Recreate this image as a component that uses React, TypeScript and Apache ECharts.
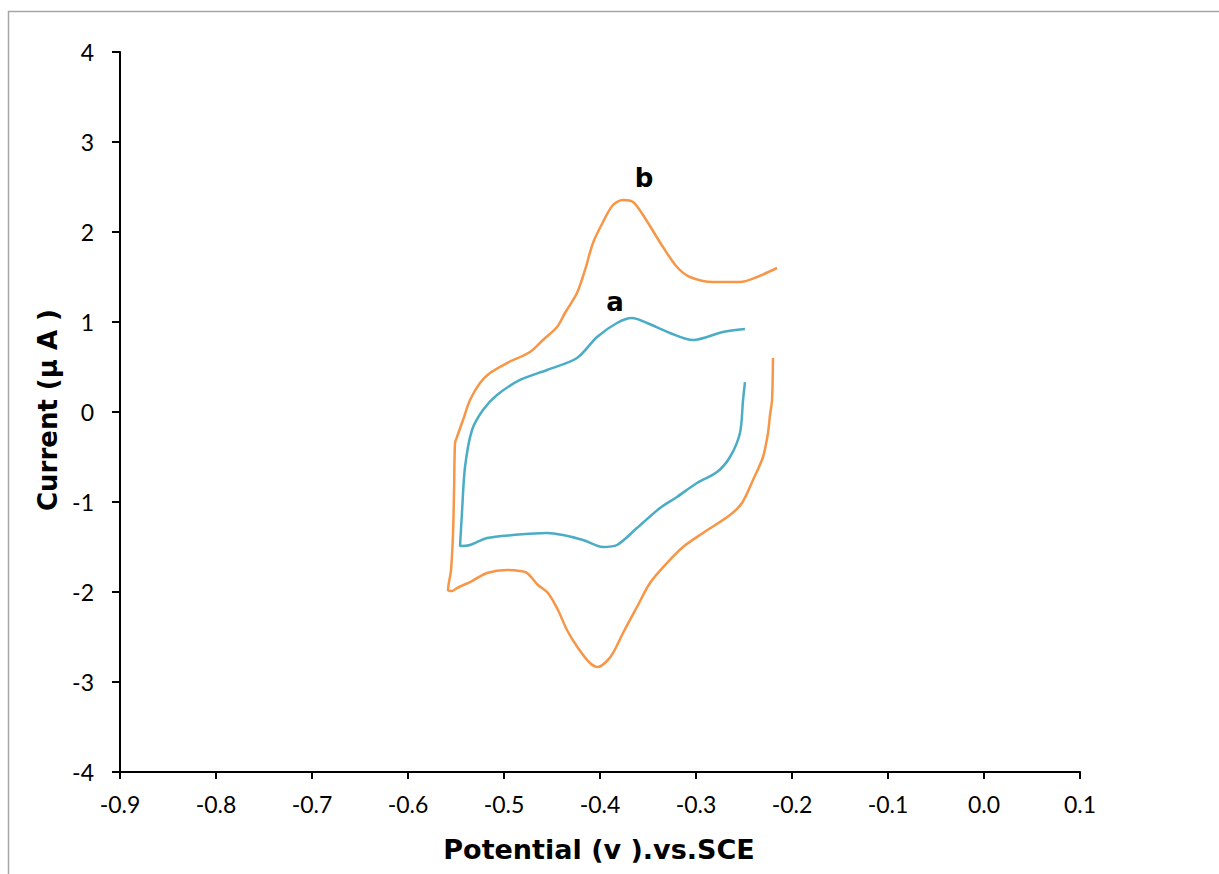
import React, { useEffect, useRef } from "react";
import * as echarts from "echarts";

// Potential (V vs SCE), current (µA) — curve a (blue)
const curveA: [number, number][] = [
  [-0.249, 0.922],
  [-0.2719, 0.889],
  [-0.3031, 0.8],
  [-0.3271, 0.878],
  [-0.351, 0.989],
  [-0.3667, 1.044],
  [-0.3823, 0.989],
  [-0.4031, 0.833],
  [-0.424, 0.6],
  [-0.4552, 0.467],
  [-0.4833, 0.356],
  [-0.5073, 0.189],
  [-0.5219, 0.022],
  [-0.5333, -0.2],
  [-0.5406, -0.611],
  [-0.5438, -1.122],
  [-0.5458, -1.489],
  [-0.5354, -1.478],
  [-0.5177, -1.4],
  [-0.4906, -1.367],
  [-0.4552, -1.344],
  [-0.4385, -1.367],
  [-0.4177, -1.422],
  [-0.3969, -1.5],
  [-0.3823, -1.478],
  [-0.3615, -1.289],
  [-0.3375, -1.067],
  [-0.3198, -0.944],
  [-0.299, -0.789],
  [-0.2781, -0.667],
  [-0.2646, -0.5],
  [-0.2542, -0.233],
  [-0.251, 0.133],
  [-0.249, 0.333],
];

// curve b (orange)
const curveB: [number, number][] = [
  [-0.2156, 1.6],
  [-0.2365, 1.5],
  [-0.2542, 1.444],
  [-0.2823, 1.444],
  [-0.3063, 1.5],
  [-0.3198, 1.611],
  [-0.3344, 1.833],
  [-0.3552, 2.189],
  [-0.3656, 2.333],
  [-0.376, 2.356],
  [-0.3865, 2.3],
  [-0.3969, 2.111],
  [-0.4073, 1.878],
  [-0.4156, 1.578],
  [-0.424, 1.322],
  [-0.4365, 1.1],
  [-0.4448, 0.944],
  [-0.4594, 0.8],
  [-0.4729, 0.667],
  [-0.4969, 0.544],
  [-0.5146, 0.433],
  [-0.525, 0.322],
  [-0.5354, 0.133],
  [-0.5427, -0.089],
  [-0.549, -0.278],
  [-0.551, -0.344],
  [-0.552, -0.867],
  [-0.5531, -1.344],
  [-0.5552, -1.756],
  [-0.5583, -1.978],
  [-0.5542, -1.99],
  [-0.549, -1.956],
  [-0.5333, -1.878],
  [-0.5177, -1.789],
  [-0.4969, -1.756],
  [-0.4833, -1.767],
  [-0.476, -1.789],
  [-0.4646, -1.922],
  [-0.4542, -2.011],
  [-0.4438, -2.2],
  [-0.4344, -2.422],
  [-0.4229, -2.622],
  [-0.4104, -2.789],
  [-0.4021, -2.833],
  [-0.3938, -2.778],
  [-0.3865, -2.678],
  [-0.376, -2.456],
  [-0.3615, -2.167],
  [-0.3479, -1.9],
  [-0.3302, -1.678],
  [-0.3135, -1.5],
  [-0.2927, -1.344],
  [-0.2646, -1.144],
  [-0.2521, -1.011],
  [-0.2406, -0.756],
  [-0.2302, -0.5],
  [-0.225, -0.233],
  [-0.2229, -0.033],
  [-0.2208, 0.133],
  [-0.2198, 0.6],
];

const curveLabels = ["a", "b"];
const xTitle = "Potential (v ).vs.SCE";
const yTitle = "Current (µ A )";

export default function App() {
  const ref = useRef<HTMLDivElement>(null);
  useEffect(() => {
    document.body.style.margin = "0";
    if (!ref.current) return;
    const chart = echarts.init(ref.current, undefined, { renderer: "svg" });
    const tickFont = { fontFamily: "Lato", fontSize: 23, color: "#000" };
    chart.setOption({
      animation: false,
      backgroundColor: "#fff",
      grid: { left: 120, top: 52, width: 960, height: 720, containLabel: false },
      xAxis: {
        type: "value",
        min: -0.9,
        max: 0.1,
        interval: 0.1,
        axisLine: { onZero: false, lineStyle: { color: "#000", width: 2 } },
        axisTick: { show: true, length: 7, lineStyle: { color: "#000", width: 2 } },
        axisLabel: {
          ...tickFont,
          margin: 20,
          formatter: (v: number) => v.toFixed(1),
        },
        splitLine: { show: false },
      },
      yAxis: {
        type: "value",
        min: -4,
        max: 4,
        interval: 1,
        axisLine: { show: true, onZero: false, lineStyle: { color: "#000", width: 2 } },
        axisTick: { show: true, length: 8, lineStyle: { color: "#000", width: 2 } },
        axisLabel: { ...tickFont, margin: 26 },
        splitLine: { show: false },
      },
      series: [
        {
          name: curveLabels[0],
          type: "line",
          data: curveA,
          showSymbol: false,
          smooth: 0.3,
          lineStyle: { color: "#4BACC6", width: 2.5 },
        },
        {
          name: curveLabels[1],
          type: "line",
          data: curveB,
          showSymbol: false,
          smooth: 0.3,
          lineStyle: { color: "#F79646", width: 2.5 },
        },
      ],
      graphic: [
        {
          type: "rect",
          shape: { x: 8.5, y: 11.5, width: 1400, height: 1000 },
          style: { fill: "none", stroke: "#a6a6a6", lineWidth: 1.5 },
          silent: true,
        },
        {
          type: "text",
          x: 599,
          y: 849,
          style: {
            text: xTitle,
            font: "bold 27px 'DejaVu Sans'",
            fill: "#000",
            align: "center",
            verticalAlign: "middle",
          },
        },
        {
          type: "text",
          x: 48,
          y: 410,
          rotation: Math.PI / 2,
          style: {
            text: yTitle,
            font: "bold 26px 'DejaVu Sans'",
            fill: "#000",
            align: "center",
            verticalAlign: "middle",
          },
        },
        {
          type: "text",
          x: 615,
          y: 302,
          style: {
            text: curveLabels[0],
            font: "bold 26px 'DejaVu Sans'",
            fill: "#000",
            align: "center",
            verticalAlign: "middle",
          },
        },
        {
          type: "text",
          x: 644,
          y: 178,
          style: {
            text: curveLabels[1],
            font: "bold 26px 'DejaVu Sans'",
            fill: "#000",
            align: "center",
            verticalAlign: "middle",
          },
        },
      ],
    });
    return () => chart.dispose();
  }, []);
  return <div ref={ref} style={{ width: 1219, height: 874 }} />;
}
